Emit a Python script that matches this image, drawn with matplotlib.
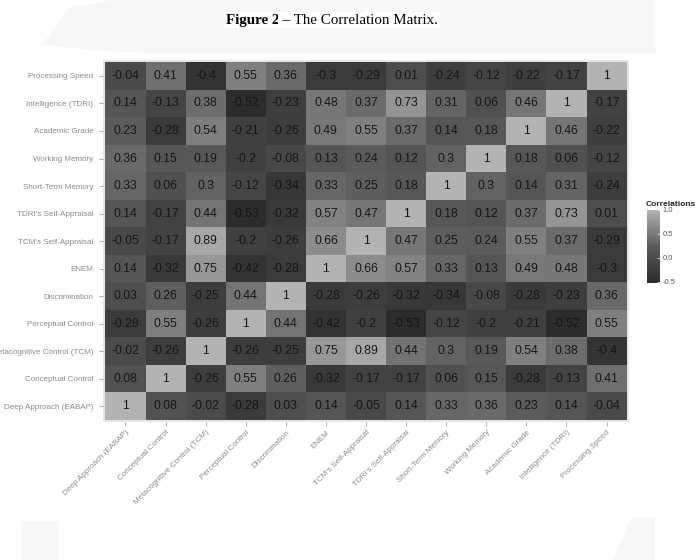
import numpy as np
import matplotlib
matplotlib.use("Agg")
from matplotlib import pyplot as plt
from matplotlib.colors import LinearSegmentedColormap
from matplotlib.patches import Polygon, Rectangle

matplotlib.rcParams['font.family'] = 'sans-serif'
matplotlib.rcParams['font.sans-serif'] = ['Liberation Sans', 'DejaVu Sans']

# variables, bottom row first (as on the x axis)
variables = [
    "Deep Approach (EABAP)", "Conceptual Control", "Metacognitive Control (TCM)",
    "Perceptual Control", "Discrimination", "ENEM", "TCM's Self-Appraisal",
    "TDRI's Self-Appraisal", "Short-Term Memory", "Working Memory",
    "Academic Grade", "Intelligence (TDRI)", "Processing Speed",
]

# rows as printed in the figure, bottom row first
row_deep = [1, 0.08, -0.02, -0.28, 0.03, 0.14, -0.05, 0.14, 0.33, 0.36, 0.23, 0.14, -0.04]
row_concept = [0.08, 1, -0.26, 0.55, 0.26, -0.32, -0.17, -0.17, 0.06, 0.15, -0.28, -0.13, 0.41]
row_metacog = [-0.02, -0.26, 1, -0.26, -0.25, 0.75, 0.89, 0.44, 0.3, 0.19, 0.54, 0.38, -0.4]
row_percept = [-0.28, 0.55, -0.26, 1, 0.44, -0.42, -0.2, -0.53, -0.12, -0.2, -0.21, -0.52, 0.55]
row_discrim = [0.03, 0.26, -0.25, 0.44, 1, -0.28, -0.26, -0.32, -0.34, -0.08, -0.28, -0.23, 0.36]
row_enem = [0.14, -0.32, 0.75, -0.42, -0.28, 1, 0.66, 0.57, 0.33, 0.13, 0.49, 0.48, -0.3]
row_tcm_sa = [-0.05, -0.17, 0.89, -0.2, -0.26, 0.66, 1, 0.47, 0.25, 0.24, 0.55, 0.37, -0.29]
row_tdri_sa = [0.14, -0.17, 0.44, -0.53, -0.32, 0.57, 0.47, 1, 0.18, 0.12, 0.37, 0.73, 0.01]
row_stm = [0.33, 0.06, 0.3, -0.12, -0.34, 0.33, 0.25, 0.18, 1, 0.3, 0.14, 0.31, -0.24]
row_wm = [0.36, 0.15, 0.19, -0.2, -0.08, 0.13, 0.24, 0.12, 0.3, 1, 0.18, 0.06, -0.12]
row_grade = [0.23, -0.28, 0.54, -0.21, -0.26, 0.49, 0.55, 0.37, 0.14, 0.18, 1, 0.46, -0.22]
row_intel = [0.14, -0.13, 0.38, -0.52, -0.23, 0.48, 0.37, 0.73, 0.31, 0.06, 0.46, 1, -0.17]
row_speed = [-0.04, 0.41, -0.4, 0.55, 0.36, -0.3, -0.29, 0.01, -0.24, -0.12, -0.22, -0.17, 1]

corr = np.array([row_deep, row_concept, row_metacog, row_percept, row_discrim,
                 row_enem, row_tcm_sa, row_tdri_sa, row_stm, row_wm,
                 row_grade, row_intel, row_speed])

cmap = LinearSegmentedColormap.from_list('grey_corr', ['#2c2c2c', '#5b5b5b', '#b3b3b3'])
vmin, vmax = corr.min(), 1.0

fig = plt.figure(figsize=(6.97, 5.6), dpi=100)

# faint page watermark shapes behind the figure
fig.patches.append(Polygon([(0.06, 0.92), (0.10, 0.985), (0.16, 1.0), (0.94, 1.0),
                            (0.94, 0.905), (0.22, 0.905), (0.14, 0.91)],
                           closed=True, transform=fig.transFigure,
                           facecolor='#f8f8f8', edgecolor='none', zorder=-5))
fig.patches.append(Rectangle((0.03, 0.0), 0.055, 0.07, transform=fig.transFigure,
                             facecolor='#f8f8f8', edgecolor='none', zorder=-5))
fig.patches.append(Polygon([(0.88, 0.0), (0.94, 0.0), (0.94, 0.075), (0.905, 0.075)],
                           closed=True, transform=fig.transFigure,
                           facecolor='#f8f8f8', edgecolor='none', zorder=-5))

# caption
fig.text(0.401, 0.964, "Figure 2", family='Liberation Serif', weight='bold',
         fontsize=10.8, ha='right', va='center',
         bbox=dict(facecolor='white', edgecolor='none', pad=1))
fig.text(0.401, 0.964, " \u2013 The Correlation Matrix.", family='Liberation Serif',
         fontsize=10.8, ha='left', va='center',
         bbox=dict(facecolor='white', edgecolor='none', pad=1))

ax = fig.add_axes([0.1478, 0.2464, 0.7547, 0.6464])
n = len(variables)
im = ax.pcolormesh(np.arange(n + 1) - 0.5, np.arange(n + 1) - 0.5, corr,
                   cmap=cmap, vmin=vmin, vmax=vmax)
for i in range(n):
    for j in range(n):
        v = corr[i, j]
        ax.text(j, i, f"{v:g}", ha='center', va='center', fontsize=8.8, color='#151515')

ax.set_xlim(-0.56, n - 0.44)
ax.set_ylim(-0.58, n - 0.42)
ax.set_facecolor('#e6e6e6')
for s in ax.spines.values():
    s.set_visible(False)
ax.set_xticks(range(n))
ax.set_yticks(range(n))
ax.set_xticklabels(variables, rotation=45, ha='right', rotation_mode='anchor',
                   fontsize=5.8, color='#8a8a8a')
ax.set_yticklabels(variables, fontsize=5.8, color='#8a8a8a')
ax.tick_params(axis='x', length=3, width=0.6, color='#a0a0a0', pad=2)
ax.tick_params(axis='y', length=3, width=0.6, color='#a0a0a0', pad=4)

# colour bar
cax = fig.add_axes([0.9283, 0.4946, 0.0187, 0.1304])
cb = fig.colorbar(im, cax=cax, ticks=[-0.5, 0.0, 0.5, 1.0])
cb.ax.set_yticklabels(['-0.5', '0.0', '0.5', '1.0'], fontsize=5.5, color='#555555')
cb.ax.tick_params(length=2, width=0.5, color='white', direction='in', pad=2)
cb.outline.set_visible(False)
fig.text(0.927, 0.628, "Correlations", fontsize=6, weight='bold', ha='left',
         va='bottom', color='#222222')

plt.savefig('out.png', dpi=100)
